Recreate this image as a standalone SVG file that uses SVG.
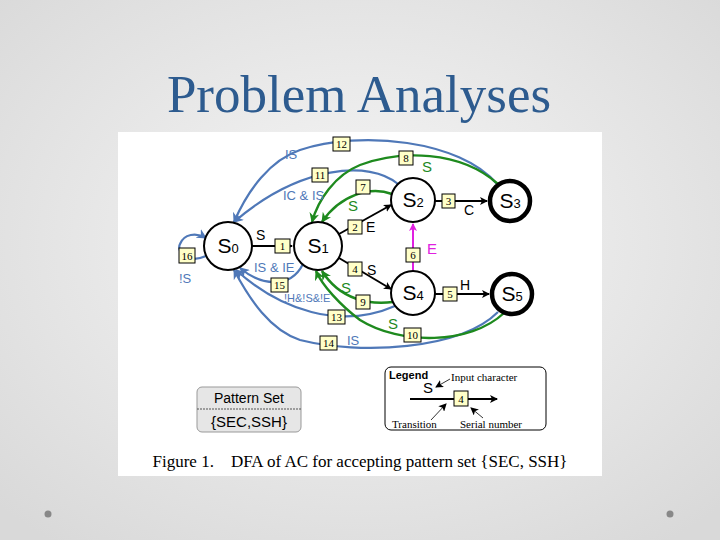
<svg xmlns="http://www.w3.org/2000/svg" width="720" height="540" viewBox="0 0 720 540">
<defs>
<radialGradient id="bg" cx="50%" cy="45%" r="70%"><stop offset="0" stop-color="#f7f7f7"/><stop offset="1" stop-color="#d9d9d9"/></radialGradient>
<marker id="ak" markerWidth="8" markerHeight="8" refX="7" refY="4" orient="auto" markerUnits="userSpaceOnUse"><path d="M0,0 L8,4 L0,8 L2,4z" fill="#000"/></marker>
<marker id="ab" markerWidth="10" markerHeight="10" refX="9" refY="5" orient="auto" markerUnits="userSpaceOnUse"><path d="M0,0 L10,5 L0,10 L3,5z" fill="#4f78b8"/></marker>
<marker id="ag" markerWidth="10" markerHeight="10" refX="9" refY="5" orient="auto" markerUnits="userSpaceOnUse"><path d="M0,0 L10,5 L0,10 L3,5z" fill="#1e8a1e"/></marker>
<marker id="am" markerWidth="8" markerHeight="8" refX="7" refY="4" orient="auto" markerUnits="userSpaceOnUse"><path d="M0,0 L8,4 L0,8 L2,4z" fill="#e020e0"/></marker>
</defs>
<style>
.st{fill:#fff;stroke:#000;stroke-width:2}
.acc{fill:#fff;stroke:#000;stroke-width:4.5}
.sl{font-family:"Liberation Sans",sans-serif;font-size:21px;fill:#000}
.sub{font-size:13px}
.nb rect{fill:#ffffc8;stroke:#000;stroke-width:1}
.nb text{font-family:"Liberation Serif",serif;font-size:11px;fill:#000;text-anchor:middle}
.k{fill:none;stroke:#000;stroke-width:2}
.b{fill:none;stroke:#4f78b8;stroke-width:2.2}
.g{fill:none;stroke:#1e8a1e;stroke-width:2.4}
.lk{font-family:"Liberation Sans",sans-serif;font-size:14px;fill:#000}
.lb{font-family:"Liberation Sans",sans-serif;font-size:13px;fill:#4f78b8}
.lg{font-family:"Liberation Sans",sans-serif;font-size:15px;fill:#1e8a1e}
</style>
<rect width="720" height="540" fill="url(#bg)"/>
<text x="359" y="112" text-anchor="middle" font-family="Liberation Serif,serif" font-size="53" fill="#2d5b8f">Problem Analyses</text>
<circle cx="48" cy="514" r="3.5" fill="#888"/>
<circle cx="670" cy="514" r="3.5" fill="#888"/>
<rect x="118" y="132" width="484" height="344" fill="#fff"/>

<g id="connectors">
<path class="k" d="M252,246 H292" marker-end="url(#ak)"/>
<path class="k" d="M339,234 L391,205" marker-end="url(#ak)"/>
<path class="k" d="M435,201 H487" marker-end="url(#ak)"/>
<path class="k" d="M339,258 L391,289" marker-end="url(#ak)"/>
<path class="k" d="M435,294 H489" marker-end="url(#ak)"/>
<path d="M413,271 V224" fill="none" stroke="#e020e0" stroke-width="2" marker-end="url(#am)"/>
<path class="b" d="M497,184 C460,140 360,130 300,150 C270,160 248,190 234,222" marker-end="url(#ab)"/>
<path class="b" d="M398,184 C370,160 300,165 234,222" marker-end="url(#ab)"/>
<path class="b" d="M395,306 C340,330 280,310 236,270" marker-end="url(#ab)"/>
<path class="b" d="M498,312 C460,350 360,355 300,340 C270,330 250,300 234,270" marker-end="url(#ab)"/>
<path class="b" d="M303,264 C290,290 260,285 240,268" marker-end="url(#ab)"/>
<path class="b" d="M206,256 C188,264 176,252 180,244 C184,234 196,232 206,238" marker-end="url(#ab)"/>
<path class="g" d="M392,194 C370,186 340,195 322,222" marker-end="url(#ag)"/>
<path class="g" d="M498,184 C460,150 400,150 360,165 C335,175 318,200 312,222" marker-end="url(#ag)"/>
<path class="g" d="M393,302 C370,305 340,300 322,271" marker-end="url(#ag)"/>
<path class="g" d="M504,313 C470,345 400,345 360,320 C340,305 322,285 316,271" marker-end="url(#ag)"/>
</g>

<g id="s0"><circle class="st" cx="228" cy="246" r="24"/><text class="sl" x="228" y="253" text-anchor="middle">S<tspan class="sub">0</tspan></text></g>
<g id="s1"><circle class="st" cx="318" cy="246" r="24"/><text class="sl" x="318" y="253" text-anchor="middle">S<tspan class="sub">1</tspan></text></g>
<g id="s2"><circle class="st" cx="413" cy="200" r="22"/><text class="sl" x="413" y="207" text-anchor="middle">S<tspan class="sub">2</tspan></text></g>
<g id="s3"><circle class="acc" cx="510" cy="201" r="20"/><text class="sl" x="510" y="208" text-anchor="middle">S<tspan class="sub">3</tspan></text></g>
<g id="s4"><circle class="st" cx="413" cy="293" r="22"/><text class="sl" x="413" y="300" text-anchor="middle">S<tspan class="sub">4</tspan></text></g>
<g id="s5"><circle class="acc" cx="512" cy="294" r="20"/><text class="sl" x="512" y="301" text-anchor="middle">S<tspan class="sub">5</tspan></text></g>

<g id="labels">
<g class="nb"><rect x="275" y="239" width="15" height="14"/><text x="282.5" y="250">1</text></g>
<text class="lk" x="256" y="240">S</text>
<g class="nb"><rect x="348" y="220" width="14" height="14"/><text x="355" y="231">2</text></g>
<text class="lk" x="366" y="232">E</text>
<g class="nb"><rect x="442" y="194" width="13" height="14"/><text x="448.5" y="205">3</text></g>
<text class="lk" x="464" y="215">C</text>
<g class="nb"><rect x="348" y="262" width="14" height="14"/><text x="355" y="273">4</text></g>
<text class="lk" x="367" y="275">S</text>
<g class="nb"><rect x="443" y="287" width="14" height="14"/><text x="450" y="298">5</text></g>
<text class="lk" x="460" y="290">H</text>
<g class="nb"><rect x="406" y="248" width="14" height="14"/><text x="413" y="259">6</text></g>
<text x="427" y="254" font-family="Liberation Sans,sans-serif" font-size="15" fill="#e020e0">E</text>
<g class="nb"><rect x="356" y="180" width="14" height="14"/><text x="363" y="191">7</text></g>
<text class="lg" x="348" y="211">S</text>
<g class="nb"><rect x="399" y="151" width="14" height="14"/><text x="406" y="162">8</text></g>
<text class="lg" x="422" y="172">S</text>
<g class="nb"><rect x="356" y="295" width="14" height="14"/><text x="363" y="306">9</text></g>
<text class="lg" x="341" y="293">S</text>
<g class="nb"><rect x="404" y="328" width="17" height="14"/><text x="412.5" y="339">10</text></g>
<text class="lg" x="388" y="329">S</text>
<g class="nb"><rect x="312" y="168" width="16" height="14"/><text x="320" y="179">11</text></g>
<text class="lb" x="283" y="200">IC &amp; IS</text>
<g class="nb"><rect x="333" y="137" width="17" height="14"/><text x="341.5" y="148">12</text></g>
<text class="lb" x="285" y="159">IS</text>
<g class="nb"><rect x="328" y="310" width="17" height="14"/><text x="336.5" y="321">13</text></g>
<text x="284" y="302" font-family="Liberation Sans,sans-serif" font-size="11" fill="#4f78b8">!H&amp;!S&amp;!E</text>
<g class="nb"><rect x="320" y="336" width="17" height="14"/><text x="328.5" y="347">14</text></g>
<text class="lb" x="347" y="345">IS</text>
<g class="nb"><rect x="271" y="278" width="17" height="14"/><text x="279.5" y="289">15</text></g>
<text class="lb" x="254" y="272">IS &amp; IE</text>
<g class="nb"><rect x="179" y="248" width="16" height="15"/><text x="187" y="260">16</text></g>
<text class="lb" x="179" y="283">!S</text>
</g>

<g id="pattern-set">
<rect x="197" y="387" width="104" height="45" rx="5" fill="#e6e6e6" stroke="#999"/>
<line x1="197" y1="409" x2="301" y2="409" stroke="#555" stroke-dasharray="2,1"/>
<text x="249" y="403" text-anchor="middle" font-family="Liberation Sans,sans-serif" font-size="14">Pattern Set</text>
<text x="249" y="427" text-anchor="middle" font-family="Liberation Sans,sans-serif" font-size="15">{SEC,SSH}</text>
</g>

<g id="legend">
<rect x="385" y="367" width="161" height="63" rx="6" fill="#fff" stroke="#000"/>
<text x="389" y="379" font-family="Liberation Sans,sans-serif" font-size="11" font-weight="bold">Legend</text>
<text x="423" y="393" font-family="Liberation Sans,sans-serif" font-size="15">S</text>
<path d="M410,399 H497" stroke="#000" stroke-width="2" marker-end="url(#ak)"/>
<g class="nb"><rect x="454" y="391" width="14" height="15"/><text x="461" y="403">4</text></g>
<path d="M450,379 L436,387" stroke="#000" stroke-width="0.8" marker-end="url(#ak)"/>
<text x="451" y="381" font-family="Liberation Serif,serif" font-size="11">Input character</text>
<path d="M431,420 L446,404" stroke="#000" stroke-width="0.8" marker-end="url(#ak)"/>
<text x="392" y="428" font-family="Liberation Serif,serif" font-size="11">Transition</text>
<path d="M483,418 L471,408" stroke="#000" stroke-width="0.8" marker-end="url(#ak)"/>
<text x="460" y="428" font-family="Liberation Serif,serif" font-size="11">Serial number</text>
</g>

<text x="360" y="467" text-anchor="middle" font-family="Liberation Serif,serif" font-size="17" xml:space="preserve">Figure 1.    DFA of AC for accepting pattern set {SEC, SSH}</text>
</svg>
